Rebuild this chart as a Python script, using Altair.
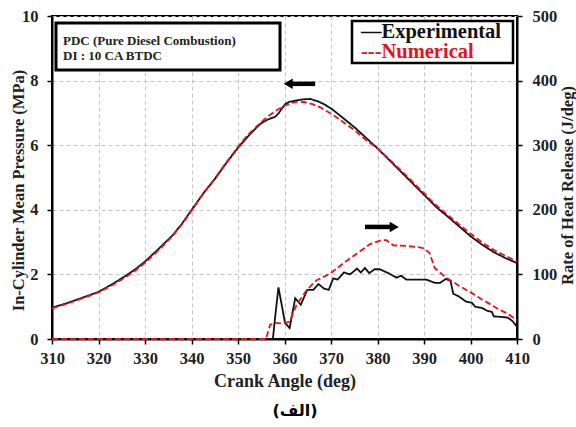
import altair as alt
import pandas as pd

# ---------------- data ----------------
series = ["Experimental", "Numerical"]
colors = ["#111111", "#e3141c"]

x_ticks = [310, 320, 330, 340, 350, 360, 370, 380, 390, 400, 410]
p_ticks = [0, 2, 4, 6, 8, 10]
h_ticks = [0, 100, 200, 300, 400, 500]

# In-cylinder pressure (MPa)
p_exp_deg = [310, 313, 316, 320, 323, 326, 328, 330, 333, 336, 338, 340, 342.5, 345, 347.5,
             350, 352, 354, 355, 356.5, 358, 358.7, 359.5, 360.2, 361, 362, 364, 365.5, 367,
             368.5, 370.1, 372.6, 375.1, 377.6, 380.1, 382.6, 385.1, 387.6, 390.1, 392.6,
             395.1, 397.6, 400.1, 402.6, 405.1, 407.6, 410]
p_exp = [0.97, 1.1, 1.25, 1.46, 1.7, 1.97, 2.17, 2.4, 2.8, 3.22, 3.58, 3.99, 4.5, 4.95, 5.45,
         5.92, 6.25, 6.55, 6.68, 6.8, 6.88, 6.98, 7.15, 7.28, 7.34, 7.37, 7.42, 7.43, 7.37,
         7.27, 7.13, 6.84, 6.55, 6.22, 5.89, 5.53, 5.17, 4.81, 4.45, 4.09,
         3.79, 3.48, 3.17, 2.91, 2.68, 2.5, 2.35]

p_num_deg = [310, 313, 316, 320, 323, 326, 328, 330, 333, 336, 338, 340, 342.5, 345, 347.5,
             350, 352, 354, 355.5, 357, 358.5, 360, 361.5, 363, 364.5, 366, 367.6, 370.1,
             372.6, 375.1, 377.6, 380.1, 382.6, 385.1, 387.6, 390.1, 392.6, 395.1, 397.6,
             400.1, 402.6, 405.1, 407.6, 410]
p_num = [0.95, 1.08, 1.23, 1.44, 1.67, 1.93, 2.13, 2.36, 2.76, 3.2, 3.56, 3.97, 4.5, 4.97, 5.47,
         5.95, 6.3, 6.58, 6.78, 6.95, 7.1, 7.22, 7.31, 7.35, 7.33, 7.27, 7.18, 6.97,
         6.72, 6.46, 6.15, 5.89, 5.56, 5.21, 4.86, 4.5, 4.14, 3.84, 3.54,
         3.25, 2.98, 2.75, 2.57, 2.4]

# Rate of heat release (J/deg)
h_exp_deg = [310, 357.5, 358, 358.7, 359.6, 360.1, 361.1, 362.3, 363.5, 364.9, 366.2, 367.3,
             368.5, 369.5, 370.5, 371.4, 372.8, 374.1, 375.6, 376.4, 377.3, 378.2, 379.4,
             380.5, 382.6, 384.1, 385.1, 386.2, 390.5, 392.3, 393.5, 394.7, 395.7, 396.3,
             397.5, 399, 400.3, 401, 402.5, 403.5, 404.6, 405, 407, 408, 409, 410]
h_exp = [0, 0, 35, 80, 45, 25, 17, 63, 53, 76, 76, 85,
         78, 76, 94, 92, 103, 100, 109, 103, 110, 102, 108,
         108, 101, 95, 98, 92, 92, 87, 87, 93, 90, 70,
         66, 58, 56, 50, 48, 44, 42, 35, 34, 33, 28, 19]

h_num_deg = [310, 356, 356.9, 358, 359.8, 361.1, 362.6, 364.8, 366.9, 369.8, 372.6, 375.5,
             378.4, 380.9, 381.9, 383.4, 386.2, 389.1, 390.1, 391.2, 392.3, 394.4, 397.6,
             400.3, 402.5, 404.2, 406, 407.8, 410]
h_num = [0, 0, 22, 25, 24, 27, 53, 76, 91, 101, 117, 132,
         147, 153, 153, 145, 144, 142, 140, 133, 110, 97, 82,
         71, 61, 54, 46, 40, 29]

# arrows (pressure-axis coordinates)
arrow_deg = [361.5, 377.3]
arrow_deg2 = [366.6, 383.0]
arrow_val = [7.9, 3.47]
head_deg = [360.8, 383.6]
head_shape = ["triangle-left", "triangle-right"]

# ---------------- frames ----------------
def long(d, v, name):
    return pd.DataFrame({"deg": d, "val": v, "series": name})

pdf = pd.concat([long(p_exp_deg, p_exp, series[0]), long(p_num_deg, p_num, series[1])])
hdf = pd.concat([long(h_exp_deg, h_exp, series[0]), long(h_num_deg, h_num, series[1])])
arr_df = pd.DataFrame({"deg": arrow_deg, "deg2": arrow_deg2, "val": arrow_val})
head_df = pd.DataFrame({"deg": head_deg, "val": arrow_val, "shape": head_shape})
one = pd.DataFrame({"a": [0]})

FONT = "Liberation Serif"
W, H = 465, 323

x_enc = alt.X(
    "deg:Q",
    scale=alt.Scale(domain=[310, 410], nice=False, zero=False),
    axis=alt.Axis(values=x_ticks, title="Crank Angle (deg)", grid=True, labelFlush=False,
                  labelPadding=6, titleX=W / 2, titleY=42, titleBaseline="middle",
                  titleFontSize=18),
)
color = alt.Color("series:N", scale=alt.Scale(domain=series, range=colors), legend=None)
dash = alt.StrokeDash("series:N", scale=alt.Scale(domain=series, range=[[1, 0], [6, 3]]), legend=None)

p_lines = alt.Chart(pdf).mark_line(strokeWidth=1.8).encode(
    x=x_enc,
    y=alt.Y("val:Q", scale=alt.Scale(domain=[0, 10], nice=False),
            axis=alt.Axis(values=p_ticks, grid=True, title="In-Cylinder Mean Pressure (MPa)",
                          labelFlush=False, titleFontSize=16.5,
                          titleX=-34, titleY=174, titleBaseline="middle", labelPadding=9)),
    color=color,
    strokeDash=dash,
)

arrows = alt.Chart(arr_df).mark_rule(strokeWidth=4.5, color="black").encode(
    x="deg:Q", x2="deg2:Q", y="val:Q"
)
heads = alt.Chart(head_df).mark_point(filled=True, color="black", size=110, opacity=1).encode(
    x="deg:Q", y="val:Q", shape=alt.Shape("shape:N", scale=None)
)

left = alt.layer(p_lines, arrows, heads)

h_lines = alt.Chart(hdf).mark_line(strokeWidth=1.8).encode(
    x=x_enc,
    y=alt.Y("val:Q", scale=alt.Scale(domain=[0, 500], nice=False),
            axis=alt.Axis(orient="right", values=h_ticks, grid=False, labelFlush=False,
                          title="Rate of Heat Release (J/deg)", titleAngle=270,
                          titleFontSize=16.5,
                          titleX=50, titleY=169, titleBaseline="middle", labelPadding=10)),
    color=color,
    strokeDash=dash,
)

# annotation boxes
box1 = alt.Chart(one).mark_rect(fill="white", stroke="black", strokeWidth=3).encode(
    x=alt.value(4), x2=alt.value(228), y=alt.value(7), y2=alt.value(54)
)
t1 = alt.Chart(one).mark_text(text="PDC (Pure Diesel Combustion)", align="left", baseline="middle",
                              font=FONT, fontWeight="bold", fontSize=13, color="#222222").encode(
    x=alt.value(11), y=alt.value(25))
t2 = alt.Chart(one).mark_text(text="DI : 10 CA BTDC", align="left", baseline="middle",
                              font=FONT, fontWeight="bold", fontSize=13, color="#222222").encode(
    x=alt.value(11), y=alt.value(40))

box2 = alt.Chart(one).mark_rect(fill="white", stroke="black", strokeWidth=2.5).encode(
    x=alt.value(300), x2=alt.value(461), y=alt.value(5), y2=alt.value(47)
)
l1 = alt.Chart(one).mark_text(text="—Experimental", align="left", baseline="middle",
                              font=FONT, fontWeight="bold", fontSize=20.5, color=colors[0]).encode(
    x=alt.value(309), y=alt.value(16))
l2 = alt.Chart(one).mark_text(text="---Numerical", align="left", baseline="middle",
                              font=FONT, fontWeight="bold", fontSize=20.5, color=colors[1]).encode(
    x=alt.value(309), y=alt.value(36))

caption = alt.Chart(one).mark_text(text="(الف)", align="center", baseline="middle",
                                   font="DejaVu Sans", fontWeight="bold", fontSize=16,
                                   color="black").encode(
    x=alt.value(243), y=alt.value(395))

chart = alt.layer(left, h_lines, box1, t1, t2, box2, l1, l2, caption).resolve_scale(
    y="independent"
).properties(
    width=W, height=H,
    autosize=alt.AutoSizeParams(type="none"),
    padding={"left": 52, "top": 16, "right": 59, "bottom": 88},
    background="white",
).configure_view(
    stroke="black", strokeWidth=2
).configure_axis(
    labelFont=FONT, labelFontWeight="bold", labelFontSize=16.5, labelColor="#222222",
    titleFont=FONT, titleFontWeight="bold", titleFontSize=18, titleColor="#222222",
    domainColor="black", domainWidth=2, tickColor="black", tickWidth=1.5, tickSize=5,
    gridColor="#c4c4c4", gridDash=[4, 3], gridWidth=1,
)

chart.save("out.html", embed_options={"renderer": "svg", "actions": False})
